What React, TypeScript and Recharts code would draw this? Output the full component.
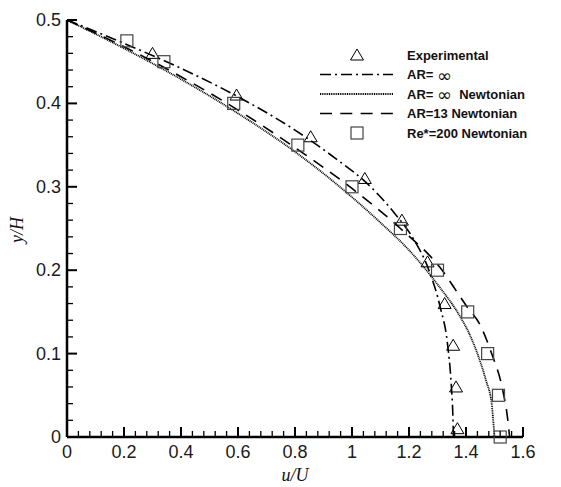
import { ComposedChart, Line, Scatter, XAxis, YAxis, Label } from 'recharts';

// Experimental (triangles)
const EXP_X = [0.3, 0.595, 0.855, 1.045, 1.175, 1.265, 1.325, 1.355, 1.365, 1.37];
const EXP_Y = [0.46, 0.41, 0.36, 0.31, 0.26, 0.21, 0.16, 0.11, 0.06, 0.01];

// Re*=200 Newtonian (squares)
const RE_X = [0.21, 0.34, 0.585, 0.81, 1.0, 1.17, 1.3, 1.406, 1.476, 1.514, 1.52];
const RE_Y = [0.475, 0.45, 0.4, 0.35, 0.3, 0.25, 0.2, 0.15, 0.1, 0.05, 0.0];

// AR = inf (dash-dot)
const AR_INF_X = [0, 0.2, 0.4, 0.6, 0.8, 0.95, 1.05, 1.15, 1.22, 1.27, 1.31, 1.335, 1.348, 1.354, 1.356];
const AR_INF_Y = [0.5, 0.472, 0.442, 0.408, 0.368, 0.332, 0.305, 0.268, 0.235, 0.2, 0.155, 0.112, 0.064, 0.025, 0];

// AR = inf Newtonian (dotted)
const NEWT_X = [0, 0.2, 0.4, 0.6, 0.8, 0.95, 1.1, 1.2, 1.3, 1.38, 1.41, 1.44, 1.47, 1.49, 1.5];
const NEWT_Y = [0.5, 0.466, 0.429, 0.388, 0.342, 0.302, 0.257, 0.224, 0.183, 0.144, 0.125, 0.1, 0.068, 0.04, 0];

// AR = 13 Newtonian (dashed)
const AR13_X = [0, 0.2, 0.4, 0.6, 0.8, 1.0, 1.17, 1.307, 1.406, 1.447, 1.49, 1.529, 1.545, 1.553];
const AR13_Y = [0.5, 0.468, 0.432, 0.392, 0.347, 0.298, 0.25, 0.204, 0.155, 0.136, 0.1, 0.056, 0.025, 0];

const X_MAJOR = [0, 0.2, 0.4, 0.6, 0.8, 1, 1.2, 1.4, 1.6];
const Y_MAJOR = [0, 0.1, 0.2, 0.3, 0.4, 0.5];

const zip = (xs: number[], ys: number[]) => xs.map((x, i) => ({ x, y: ys[i] }));

const withMinor = (major: number[], n: number) => {
  const out: number[] = [];
  major.forEach((m, i) => {
    out.push(m);
    if (i < major.length - 1) {
      const step = (major[i + 1] - m) / (n + 1);
      for (let k = 1; k <= n; k++) out.push(Math.round((m + step * k) * 1000) / 1000);
    }
  });
  return out;
};

const isMajor = (v: number, list: number[]) => list.some(m => Math.abs(m - v) < 1e-6);

const TICK_FONT = { fontFamily: '"Liberation Sans", Arial, sans-serif', fontSize: 18, fill: '#1a1a1a' };

const XTick = (props: any) => {
  const { x, y, payload } = props;
  const major = isMajor(payload.value, X_MAJOR);
  return (
    <g>
      <line x1={x} x2={x} y1={y} y2={y - (major ? 10 : 6)} stroke="#000" strokeWidth={major ? 2 : 1.3} />
      {major && (
        <text x={x} y={y + 15} textAnchor="middle" dominantBaseline="central" {...TICK_FONT}>
          {String(payload.value)}
        </text>
      )}
    </g>
  );
};

const YTick = (props: any) => {
  const { x, y, payload } = props;
  const major = isMajor(payload.value, Y_MAJOR);
  return (
    <g>
      <line x1={x} x2={x + (major ? 10 : 6)} y1={y} y2={y} stroke="#000" strokeWidth={major ? 2 : 1.3} />
      {major && (
        <text x={x - 6} y={y} textAnchor="end" dominantBaseline="central" {...TICK_FONT}>
          {String(payload.value)}
        </text>
      )}
    </g>
  );
};

const Triangle = ({ cx, cy }: any) => (
  <path d={`M${cx},${cy - 6} L${cx + 6.5},${cy + 5} L${cx - 6.5},${cy + 5} Z`} fill="none" stroke="#000" strokeWidth={1} />
);

const Square = ({ cx, cy }: any) => (
  <rect x={cx - 6} y={cy - 6} width={12} height={12} fill="none" stroke="#444" strokeWidth={1.2} />
);

const LEGEND_FONT = { fontFamily: '"Liberation Sans", Arial, sans-serif', fontSize: 13, fontWeight: 700, fill: '#111' };

function LegendBox() {
  const rows = [55, 74.5, 94, 113.5, 133];
  const lx1 = 320;
  const lx2 = 393;
  const tx = 407;
  const inf = (
    <tspan fontWeight={400} fontFamily="DejaVu Sans, sans-serif" fontSize={18}>∞</tspan>
  );
  return (
    <svg width={561} height={487} style={{ position: 'absolute', left: 0, top: 0, pointerEvents: 'none' }}>
      <Triangle cx={357} cy={rows[0]} />
      <text x={tx} y={rows[0]} dominantBaseline="central" {...LEGEND_FONT}>Experimental</text>

      <line x1={lx1} x2={lx2} y1={rows[1]} y2={rows[1]} stroke="#000" strokeWidth={1.6} strokeDasharray="11 4 2 4" />
      <text x={tx} y={rows[1]} dominantBaseline="central" {...LEGEND_FONT}>AR= {inf}</text>

      <line x1={lx1} x2={lx2} y1={rows[2]} y2={rows[2]} stroke="#000" strokeWidth={1.8} strokeDasharray="1 0.8" />
      <text x={tx} y={rows[2]} dominantBaseline="central" {...LEGEND_FONT} style={{ whiteSpace: 'pre' }}>
        AR= {inf}{'  '}Newtonian
      </text>

      <line x1={lx1} x2={lx2} y1={rows[3]} y2={rows[3]} stroke="#000" strokeWidth={1.6} strokeDasharray="12 8.3" />
      <text x={tx} y={rows[3]} dominantBaseline="central" {...LEGEND_FONT}>AR=13 Newtonian</text>

      <Square cx={357} cy={rows[4]} />
      <text x={tx} y={rows[4]} dominantBaseline="central" {...LEGEND_FONT}>Re*=200 Newtonian</text>
    </svg>
  );
}

export default function App() {
  const expData = zip(EXP_X, EXP_Y);
  const reData = zip(RE_X, RE_Y);
  const arInf = zip(AR_INF_X, AR_INF_Y);
  const newt = zip(NEWT_X, NEWT_Y);
  const ar13 = zip(AR13_X, AR13_Y);

  return (
    <div style={{ position: 'absolute', left: 0, top: 0, width: 561, height: 487, background: '#fff' }}>
      <ComposedChart width={561} height={487} margin={{ top: 20, right: 38, bottom: 0, left: 0 }}>
        <XAxis
          type="number"
          dataKey="x"
          domain={[0, 1.6]}
          ticks={withMinor(X_MAJOR, 4)}
          interval={0}
          height={50}
          tickSize={0}
          tickMargin={0}
          tickLine={false}
          tick={<XTick />}
          axisLine={{ stroke: '#000', strokeWidth: 2.5 }}
        >
          <Label
            content={() => (
              <text x={295} y={475} textAnchor="middle" dominantBaseline="central"
                fontFamily='"Liberation Serif", "Times New Roman", serif' fontStyle="italic" fontSize={18} fill="#111">
                u/U
              </text>
            )}
          />
        </XAxis>
        <YAxis
          type="number"
          dataKey="y"
          domain={[0, 0.5]}
          ticks={withMinor(Y_MAJOR, 4)}
          interval={0}
          width={67}
          tickSize={0}
          tickMargin={0}
          tickLine={false}
          tick={<YTick />}
          axisLine={{ stroke: '#000', strokeWidth: 2.5 }}
        >
          <Label
            content={() => (
              <text x={17} y={230} textAnchor="middle" dominantBaseline="central" transform="rotate(-90 17 230)"
                fontFamily='"Liberation Serif", "Times New Roman", serif' fontStyle="italic" fontSize={18} fill="#111">
                y/H
              </text>
            )}
          />
        </YAxis>

        <Line data={arInf} dataKey="y" type="monotone" stroke="#000" strokeWidth={1.6}
          strokeDasharray="11 4 2 4" dot={false} isAnimationActive={false} />
        <Line data={newt} dataKey="y" type="monotone" stroke="#000" strokeWidth={1.8}
          strokeDasharray="1 0.8" dot={false} isAnimationActive={false} />
        <Line data={ar13} dataKey="y" type="monotone" stroke="#000" strokeWidth={1.6}
          strokeDasharray="12 8.3" dot={false} isAnimationActive={false} />

        <Scatter data={expData} shape={<Triangle />} isAnimationActive={false} />
        <Scatter data={reData} shape={<Square />} isAnimationActive={false} />
      </ComposedChart>
      <LegendBox />
    </div>
  );
}
